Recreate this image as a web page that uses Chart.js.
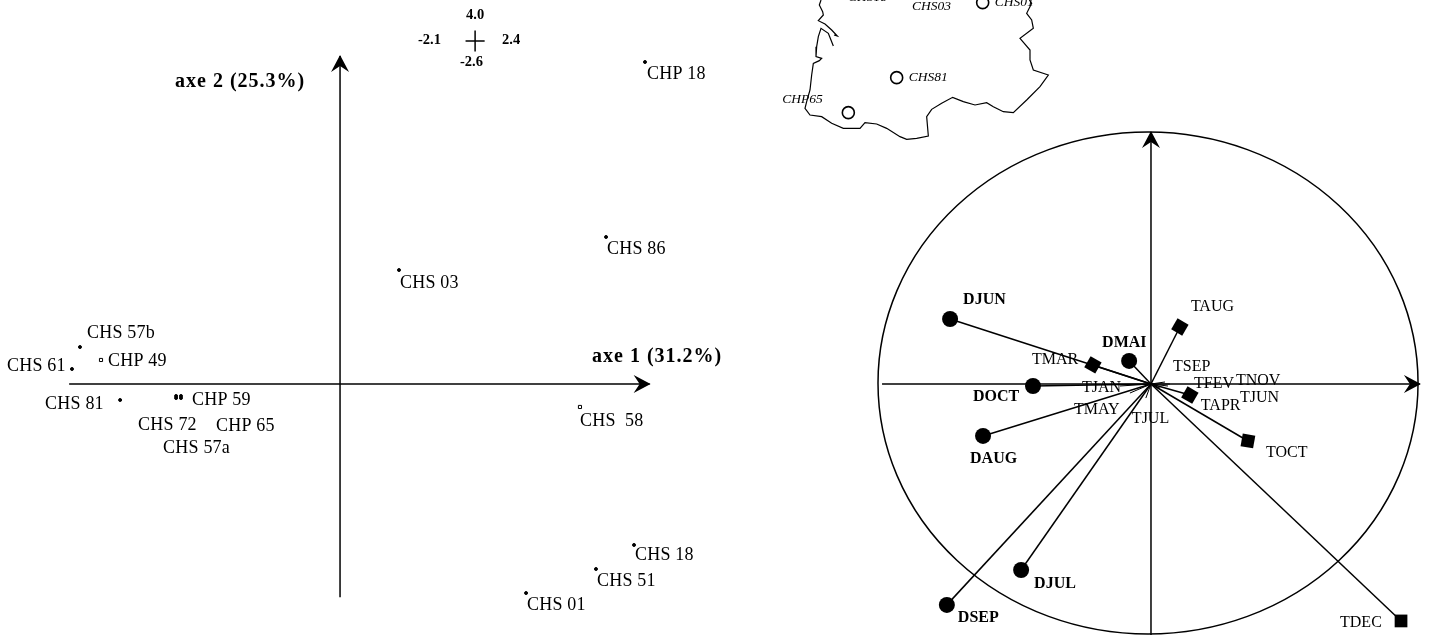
<!DOCTYPE html>
<html>
<head>
<meta charset="utf-8">
<title>axe 1 / axe 2</title>
<script src="https://cdn.jsdelivr.net/npm/chart.js@4/dist/chart.umd.min.js"></script>
<style>
    html, body { margin: 0; padding: 0; background: #fff; overflow: hidden; }
    canvas { position: absolute; display: block; }
    #sitesChart { left: 0; top: 0; }
    #mapChart { left: 760px; top: 0; }
    #circleChart { left: 760px; top: 0; }
</style>
</head>
<body>
<canvas id="sitesChart" width="730" height="635"></canvas>
<canvas id="circleChart" width="669" height="635"></canvas>
<canvas id="mapChart" width="320" height="140"></canvas>
<script>
// Sites on the first factorial plane
const siteNames = ['CHS 57b', 'CHP 49', 'CHS 61', 'CHS 81', 'CHP 59', 'CHS 72', 'CHP 65', 'CHS 57a', 'CHS 03', 'CHS 86', 'CHP 18', 'CHS  58', 'CHS 18', 'CHS 51', 'CHS 01'];
const siteAxis1 = [-2.016, -1.853, -2.078, -1.705, -1.233, -1.271, -1.233, -1.271, 0.457, 2.062, 2.364, 1.86, 2.279, 1.984, 1.442];
const siteAxis2 = [0.451, 0.293, 0.183, -0.195, -0.146, -0.146, -0.171, -0.171, 1.39, 1.793, 3.927, -0.28, -1.963, -2.256, -2.549];
const axis1Limits = [-2.1, 2.4];
const axis2Limits = [-2.6, 4.0];

// Variables on the correlation circle
const variableNames = ['DJUN', 'DMAI', 'DOCT', 'DAUG', 'DJUL', 'DSEP', 'TAUG', 'TMAR', 'TAPR', 'TOCT', 'TDEC', 'TSEP', 'TNOV', 'TJUN', 'TFEV', 'TJAN', 'TMAY', 'TJUL'];
const variableAxis1 = [-0.744, -0.081, -0.437, -0.622, -0.481, -0.756, 0.107, -0.215, 0.144, 0.359, 0.926, 0.052, 0.07, 0.033, 0.063, -0.115, -0.078, -0.019];
const variableAxis2 = [0.259, 0.092, -0.008, -0.207, -0.741, -0.88, 0.227, 0.076, -0.044, -0.227, -0.944, 0.008, 0, -0.016, -0.008, -0.008, -0.036, -0.056];

// Map outline, in map units (north part, then south part)
const mapNorthX = [183, 178, 188, 190, 175, 195, 215, 232, 222];
const mapNorthY = [0, 15, 35, 45, 62, 72, 90, 108, 105];
const mapSouthX = [220, 212, 205, 183, 175, 170, 168, 185, 178, 160, 155, 150, 140, 135, 150, 185, 215, 250, 300, 315, 350, 380, 420, 440, 470, 505, 500, 515, 545, 578, 610, 645, 680, 700, 730, 760, 800, 840, 865, 820, 810, 810, 780, 820, 815, 800, 815, 808];
const mapSouthY = [138, 118, 100, 85, 110, 140, 170, 175, 182, 190, 225, 270, 305, 325, 345, 350, 370, 385, 385, 368, 372, 385, 410, 418, 415, 408, 350, 328, 310, 292, 305, 315, 308, 320, 335, 338, 300, 260, 225, 210, 180, 150, 115, 85, 60, 40, 10, 0];
const mapSiteNames = ['CHS01', 'CHS81', 'CHP65'];
const mapSiteX = [668, 410, 265];
const mapSiteY = [8, 233, 338];

// Label placement and styles, kept apart from the values (pixels from the point: dx, dy)
const siteLabelOffsets = [[7, -14], [7, 1], [-65, -3], [-75, 4], [11, 4], [-38, 29], [35, 28], [-13, 50], [1, 13], [1, 12], [2, 12], [0, 14], [1, 10], [1, 12], [1, 12]];
const variableLabelOffsets = [[13, -19], [-27, -18], [-60, 11], [-13, 23], [13, 14], [11, 13], [11, -20], [-61, -5], [11, 11], [18, 12], [-61, 2], [8, -15], [66, -3], [80, 10], [26, -2], [-38, 2], [-56, 17], [-14, 21]];
const mapSiteLabelOffsets = [[12, 0], [12, 0], [-66, -13]];
const openSites = ['CHP 49', 'CHS  58'];
const serif = '"Liberation Serif", "Times New Roman", serif';
const ink = '#000';

function lineDataset(xs, ys, width) {
    return {
        data: xs.map((x, i) => ({ x: x, y: ys[i] })),
        showLine: true,
        fill: false,
        borderColor: ink,
        borderWidth: width,
        pointRadius: 0,
        tension: 0
    };
}

function baseOptions(xMin, xMax, yMin, yMax) {
    return {
        responsive: false,
        animation: false,
        events: [],
        layout: { padding: 0, autoPadding: false },
        plugins: { legend: { display: false }, tooltip: { enabled: false } },
        scales: {
            x: { type: 'linear', display: false, min: xMin, max: xMax },
            y: { type: 'linear', display: false, min: yMin, max: yMax }
        }
    };
}

function putText(ctx, text, x, y, font, spacing) {
    ctx.font = font;
    ctx.letterSpacing = spacing || '0px';
    ctx.fillStyle = ink;
    ctx.textAlign = 'left';
    ctx.textBaseline = 'middle';
    ctx.fillText(text, x, y);
}

// Arrow head at the end of an axis, pointing along (dirX, dirY)
function arrowHead(chart, xValue, yValue, dirX, dirY) {
    const ctx = chart.ctx;
    const tipX = chart.scales.x.getPixelForValue(xValue);
    const tipY = chart.scales.y.getPixelForValue(yValue);
    ctx.save();
    ctx.translate(tipX, tipY);
    ctx.rotate(Math.atan2(dirY, dirX));
    ctx.fillStyle = ink;
    ctx.beginPath();
    ctx.moveTo(1, 0);
    ctx.lineTo(-16, -9);
    ctx.lineTo(-10, 0);
    ctx.lineTo(-16, 9);
    ctx.closePath();
    ctx.fill();
    ctx.restore();
}

// Left panel: sites
new Chart(document.getElementById('sitesChart'), {
    type: 'scatter',
    data: {
        datasets: [
            lineDataset(axis1Limits, [0, 0], 1.5),
            lineDataset([0, 0], axis2Limits, 1.5),
            lineDataset([0.973, 1.121], [4.183, 4.183], 1.5),
            lineDataset([1.047, 1.047], [4.055, 4.311], 1.5),
            {
                data: siteAxis1.map((x, i) => ({ x: x, y: siteAxis2[i] })),
                pointStyle: siteNames.map(n => openSites.includes(n) ? 'rect' : 'circle'),
                pointRadius: siteNames.map(n => openSites.includes(n) ? 2.2 : 1.5),
                backgroundColor: siteNames.map(n => openSites.includes(n) ? '#fff' : ink),
                borderColor: ink,
                borderWidth: 1
            }
        ]
    },
    options: baseOptions(-2.636, 3.023, -3.061, 4.683),
    plugins: [{
        id: 'siteLabels',
        afterDatasetsDraw(chart) {
            const ctx = chart.ctx;
            const xs = chart.scales.x;
            const ys = chart.scales.y;
            arrowHead(chart, axis1Limits[1], 0, 1, 0);
            arrowHead(chart, 0, axis2Limits[1], 0, -1);
            siteNames.forEach((name, i) => {
                const off = siteLabelOffsets[i];
                putText(ctx, name, xs.getPixelForValue(siteAxis1[i]) + off[0], ys.getPixelForValue(siteAxis2[i]) + off[1], '18px ' + serif, '0.2px');
            });
            putText(ctx, 'axe 2 (25.3%)', 175, 82, 'bold 20px ' + serif, '1px');
            putText(ctx, 'axe 1 (31.2%)', 592, 357, 'bold 20px ' + serif, '1px');
            const keyFont = 'bold 14.5px ' + serif;
            putText(ctx, '4.0', 466, 15, keyFont);
            putText(ctx, '-2.1', 418, 40, keyFont);
            putText(ctx, '2.4', 502, 40, keyFont);
            putText(ctx, '-2.6', 460, 62, keyFont);
        }
    }]
});

// Right panel: correlation circle
const variableMarkers = variableNames.map((name, i) => {
    if (i < 6) return { style: 'circle', radius: 8, rotation: 0 };
    if (name === 'TOCT') return { style: 'rect', radius: 9, rotation: 10 };
    if (name === 'TDEC') return { style: 'rect', radius: 9, rotation: 0 };
    if (i < 11) return { style: 'rect', radius: 9, rotation: 30 };
    return null;
});

new Chart(document.getElementById('circleChart'), {
    type: 'scatter',
    data: {
        datasets: [
            lineDataset([-0.996, 0.996], [0, 0], 1.5),
            lineDataset([0, 0], [-1, 1.004], 1.5)
        ].concat(variableNames.map((name, i) => {
            const marker = variableMarkers[i];
            return {
                data: [{ x: 0, y: 0 }, { x: variableAxis1[i], y: variableAxis2[i] }],
                showLine: true,
                borderColor: ink,
                borderWidth: marker ? 1.5 : 1,
                backgroundColor: ink,
                pointStyle: marker ? marker.style : 'circle',
                pointRotation: marker ? marker.rotation : 0,
                pointRadius: marker ? [0, marker.radius] : 0,
                pointBorderWidth: 0
            };
        }))
    },
    options: baseOptions(-1.448, 1.0296, -1, 1.5299),
    plugins: [{
        id: 'circleAndLabels',
        afterDatasetsDraw(chart) {
            const ctx = chart.ctx;
            const xs = chart.scales.x;
            const ys = chart.scales.y;
            const rx = xs.getPixelForValue(1) - xs.getPixelForValue(0);
            const ry = ys.getPixelForValue(0) - ys.getPixelForValue(1);
            ctx.save();
            ctx.strokeStyle = ink;
            ctx.lineWidth = 1.5;
            ctx.beginPath();
            ctx.ellipse(xs.getPixelForValue(-0.011), ys.getPixelForValue(0.004), rx, ry, 0, 0, Math.PI * 2);
            ctx.stroke();
            ctx.restore();
            arrowHead(chart, 0.996, 0, 1, 0);
            arrowHead(chart, 0, 1.004, 0, -1);
            variableNames.forEach((name, i) => {
                const off = variableLabelOffsets[i];
                const font = (i < 6 ? 'bold 16px ' : '16px ') + serif;
                putText(ctx, name, xs.getPixelForValue(variableAxis1[i]) + off[0], ys.getPixelForValue(variableAxis2[i]) + off[1], font);
            });
        }
    }]
});

// Inset map
new Chart(document.getElementById('mapChart'), {
    type: 'scatter',
    data: {
        datasets: [
            lineDataset(mapNorthX, mapNorthY, 1.2),
            lineDataset(mapSouthX, mapSouthY, 1.2),
            {
                data: mapSiteX.map((x, i) => ({ x: x, y: mapSiteY[i] })),
                pointStyle: 'circle',
                pointRadius: 6,
                backgroundColor: '#fff',
                borderColor: ink,
                borderWidth: 1.6,
                clip: false
            }
        ]
    },
    options: (function() {
        const opts = baseOptions(0, 960, 0, 420);
        opts.scales.y.reverse = true;
        return opts;
    })(),
    plugins: [{
        id: 'mapLabels',
        afterDatasetsDraw(chart) {
            const ctx = chart.ctx;
            const xs = chart.scales.x;
            const ys = chart.scales.y;
            const font = 'italic 13.5px ' + serif;
            mapSiteNames.forEach((name, i) => {
                const off = mapSiteLabelOffsets[i];
                putText(ctx, name, xs.getPixelForValue(mapSiteX[i]) + off[0], ys.getPixelForValue(mapSiteY[i]) + off[1], font);
            });
            putText(ctx, 'CHS03', 152, 6, font);
            putText(ctx, 'CHS18', 88, -3, font);
        }
    }]
});
</script>
</body>
</html>
